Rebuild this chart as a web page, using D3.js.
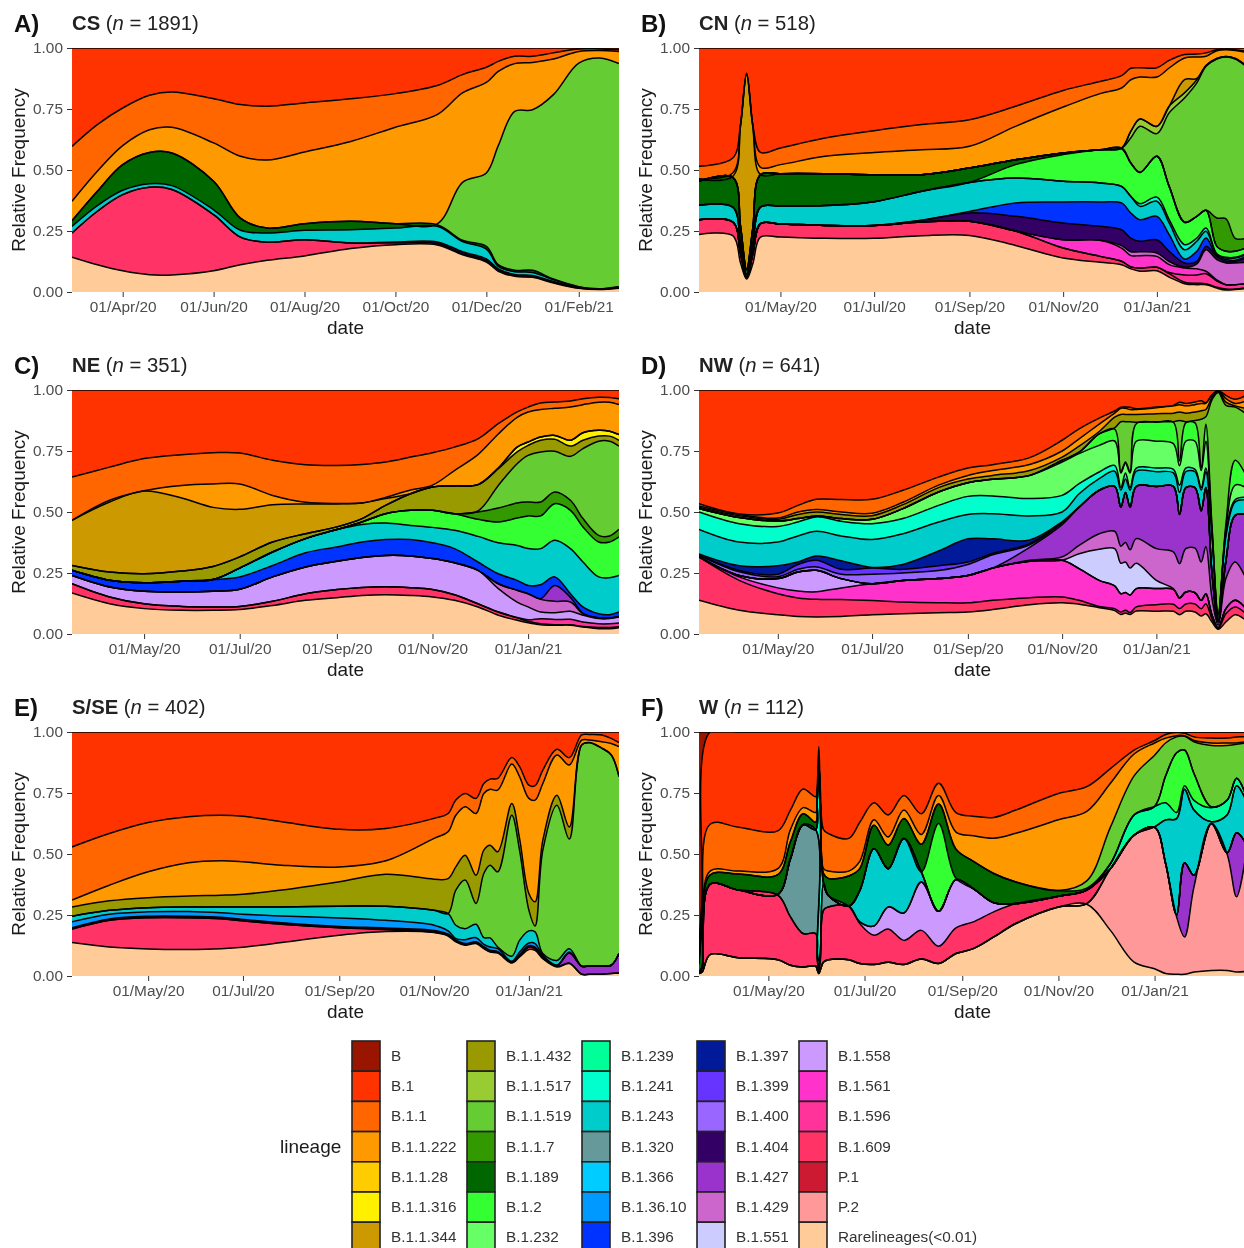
<!DOCTYPE html>
<html>
<head>
<meta charset="utf-8">
<title>Lineage frequency by region</title>
<script src="https://cdn.jsdelivr.net/npm/d3@7"></script>
<style>
  body { margin: 0; background: #fff; overflow: hidden; }
  svg { display: block; font-family: "Liberation Sans", Arial, sans-serif; filter: blur(0.4px); }
  .tick text { fill: #4d4d4d; font-size: 15.4px; }
  .tick line { stroke: #333; }
</style>
</head>
<body>
<script>
// lineages, top of the stack first (same order as the legend)
const lineages = ["B","B.1","B.1.1","B.1.1.222","B.1.1.28","B.1.1.316","B.1.1.344",
  "B.1.1.432","B.1.1.517","B.1.1.519","B.1.1.7","B.1.189","B.1.2","B.1.232",
  "B.1.239","B.1.241","B.1.243","B.1.320","B.1.366","B.1.36.10","B.1.396",
  "B.1.397","B.1.399","B.1.400","B.1.404","B.1.427","B.1.429","B.1.551",
  "B.1.558","B.1.561","B.1.596","B.1.609","P.1","P.2","Rarelineages(<0.01)"];
const lineageColours = ["#991500","#ff3300","#ff6600","#ff9900","#ffcc00","#fff000","#cc9900",
  "#999900","#99cc33","#66cc33","#339900","#006600","#33ff33","#66ff66",
  "#00ff99","#00ffcc","#00cccc","#669999","#00ccff","#0099ff","#0033ff",
  "#001a99","#6633ff","#9966ff","#330066","#9933cc","#cc66cc","#ccccff",
  "#cc99ff","#ff33cc","#ff3399","#ff3366","#cc1a33","#ff9999","#ffcc99"];
const N = null; // null = no thickness at that date, edge sits on the lineage below

// All series below are the upper edge of each lineage in the stack.

// A) CS
const csDates = ["2020-02-27","2020-03-15","2020-04-01","2020-04-19","2020-05-04","2020-06-01","2020-06-19","2020-07-07","2020-08-01","2020-09-01","2020-10-01","2020-10-29","2020-11-15","2020-12-01","2020-12-09","2020-12-20","2021-01-01","2021-01-15","2021-02-01","2021-02-15","2021-02-28"];
const csRare = [.143,.112,.087,.071,.070,.087,.112,.130,.148,.178,.194,.193,.153,.123,.085,.064,.060,.037,.015,.010,.015];
const cs609 = [.242,.331,.399,.429,.420,.317,.225,.204,.214,.201,.201,.198,.157,.128,.090,.068,.064,.040,.016,.011,.016];
const cs404 = [N,N,N,N,N,N,N,N,N,N,.205,.205,.165,.136,.095,.072,.068,.043,.018,.012,.017];
const cs243 = [.269,.354,.417,.444,.436,.337,.253,.242,.253,.255,.262,.269,.207,.176,.105,.083,.080,.050,.020,.013,.020];
const cs189 = [.292,.413,.522,.572,.57,.454,.303,.262,.28,.29,.28,.276,.212,.187,.112,.089,.089,.053,.022,.012,.023];
const cs519 = [N,N,N,N,N,N,N,N,N,N,N,.279,.449,.488,.60,.74,.747,.809,.938,.959,.936];
const cs222 = [.372,.495,.60,.665,.675,.611,.556,.541,.574,.617,.675,.727,.816,.859,.904,.936,.941,.955,.986,.99,.986];
const cs11 = [.597,.686,.754,.806,.82,.792,.768,.761,.775,.792,.813,.846,.891,.921,.945,.966,.966,.98,.996,.996,.993];

// B) CN
const cnDates = ["2020-03-09","2020-03-31","2020-04-05","2020-04-09","2020-04-13","2020-04-18","2020-05-01","2020-05-30","2020-07-01","2020-08-01","2020-09-01","2020-10-01","2020-11-01","2020-11-25","2020-12-09","2020-12-15","2020-12-21","2021-01-01","2021-01-09","2021-01-19","2021-01-27","2021-02-02","2021-02-09","2021-02-15","2021-02-21","2021-02-28"];
const cnRare = [.236,.231,.12,.053,.115,.225,.225,.22,.22,.231,.232,.191,.139,.122,.112,.095,.085,.087,.061,.034,.03,.03,.016,.008,.01,.014];
const cn609 = [.296,.287,.16,.06,.155,.28,.279,.273,.273,.287,.29,.25,.18,.146,.126,.103,.098,.101,.075,.04,.036,.034,.02,.012,.012,.018];
const cn596 = [N,N,N,N,N,N,N,N,N,N,N,N,N,N,N,N,N,N,.08,.07,.07,.075,.045,.03,.03,.033];
const cn561 = [N,N,N,N,N,N,N,N,N,N,N,N,.214,.212,.18,.149,.149,.146,.112,.098,.095,.085,.05,.03,.03,.035];
const cn429 = [N,N,N,N,N,N,N,N,N,N,N,N,N,N,.19,.165,.165,.16,.125,.102,.115,.173,.133,.119,.119,.122];
const cn404 = [N,N,N,N,N,N,N,N,N,.294,.324,.31,.283,.269,.255,.221,.208,.214,.167,.119,.126,.187,.146,.126,.126,.139];
const cn396 = [N,N,N,N,N,N,N,N,N,N,.33,.365,.369,.369,.365,.324,.296,.31,.235,.135,.167,.221,.146,.133,.13,.146];
const cn243 = [.355,.348,.20,.071,.195,.348,.352,.354,.37,.413,.449,.467,.454,.447,.433,.392,.351,.372,.283,.173,.208,.249,.153,.139,.139,.153];
const cn241 = [N,N,N,N,N,N,N,N,N,N,N,N,N,N,N,N,.362,.389,.297,.194,.221,.262,.157,.142,.142,.157];
const cn2 = [N,N,N,N,N,N,N,N,N,N,.449,.522,.563,.583,.587,.529,.49,.556,.433,.286,.31,.335,.187,.167,.167,.18];
const cn189 = [.454,.47,.27,.092,.26,.481,.485,.485,.481,.481,.508,.542,.57,.583,.59,N,N,N,N,N,N,N,N,N,N,N];
const cn17 = [N,N,N,N,N,N,N,N,N,N,N,N,N,N,N,N,N,N,N,N,N,N,.303,.30,.22,.22];
const cn519 = [N,N,N,N,N,N,N,N,N,N,N,N,N,N,N,.631,.679,.649,.734,.795,.857,.925,.955,.963,.955,.925];
const cn517 = [N,N,N,N,N,N,N,N,N,N,N,N,N,N,N,.658,.709,.679,.761,.816,.87,.928,.957,.965,.957,.928];
const cn344 = [.46,.474,.68,.891,.68,.481,.485,N,N,N,N,N,N,N,N,N,N,N,N,.87,.875,N,N,N,N,N];
const cn222 = [.464,.488,.682,.895,.682,.511,.522,.556,.572,.583,.597,.679,.758,.813,.836,.87,.881,.881,.918,.959,.963,.966,.989,.993,.99,.982];
const cn11 = [.515,.549,.686,.897,.686,.572,.59,.631,.661,.686,.706,.761,.826,.863,.887,.917,.919,.919,.949,.973,.975,.98,.993,.996,.993,.986];

// C) NE
const neDates = ["2020-03-16","2020-04-09","2020-05-01","2020-05-25","2020-06-14","2020-07-01","2020-07-22","2020-08-12","2020-09-01","2020-09-17","2020-10-02","2020-10-18","2020-11-01","2020-11-15","2020-11-30","2020-12-13","2020-12-25","2021-01-01","2021-01-09","2021-01-18","2021-01-28","2021-02-05","2021-02-15","2021-02-22","2021-02-28"];
const neRare = [.168,.124,.104,.097,.097,.1,.117,.138,.149,.158,.161,.158,.152,.138,.111,.077,.056,.046,.038,.036,.036,.029,.022,.022,.026];
const ne609 = [.206,.152,.124,.113,.111,.113,.134,.165,.182,.191,.194,.19,.182,.161,.124,.09,.066,.052,.042,.038,.038,.031,.027,.027,.03];
const ne596 = [N,N,N,N,N,N,N,N,N,N,N,N,N,N,N,N,.068,.058,.063,.059,.06,.049,.042,.042,.045];
const ne558 = [.24,.193,.175,.172,.175,.183,.234,.275,.298,.314,.322,.32,.309,.292,.261,.186,.131,.111,.09,.087,.093,.077,.063,.063,.07];
const ne429 = [N,N,N,N,N,N,N,N,N,N,N,N,N,N,N,.206,.179,.165,.142,.134,.131,.083,.066,.066,.072];
const ne427 = [N,N,N,N,N,N,N,N,N,N,N,N,N,N,N,N,N,N,.145,.199,.15,.085,N,N,N];
const ne396 = [.261,.22,.21,.216,.223,.234,.281,.333,.357,.377,.387,.387,.374,.35,.295,.247,.22,.199,.202,.234,.165,.111,.083,.079,.09];
const ne243 = [N,N,N,N,N,.27,.336,.391,.428,.449,.455,.445,.437,.425,.4,.374,.363,.35,.35,.384,.35,.295,.234,.231,.24];
const ne2 = [N,N,N,N,N,N,N,N,N,.459,.493,.507,.507,.493,.47,.459,.475,.484,.484,.534,.507,.439,.377,.377,.398];
const ne17 = [N,N,N,N,N,N,N,N,N,N,N,N,N,N,.5,.516,.537,.541,.541,.582,.548,.473,.404,.402,.429];
const ne519 = [N,N,N,N,N,N,N,N,N,N,N,N,N,N,.504,.609,.698,.732,.746,.749,.728,.76,.79,.79,.77];
const ne432 = [.281,.254,.247,.258,.277,.316,.377,.411,.439,.473,.527,.575,.602,.607,.612,.678,.746,.773,.794,.798,.77,.794,.811,.811,.794];
const ne316 = [N,N,N,N,N,N,N,N,N,N,N,N,N,N,N,.68,.766,.787,.807,.814,.794,.825,.835,.831,.817];
const ne344 = [.466,.541,.586,.557,.519,.511,.53,.533,.533,.537,.555,.575,N,N,N,N,N,N,N,N,N,N,N,N,N];
const ne222 = [.466,.548,.587,.609,.615,.615,.568,.54,.535,.537,.56,.59,.61,.67,.735,.82,.888,.91,.92,.925,.93,.94,.95,.95,.94];
const ne11 = [.643,.684,.719,.735,.743,.742,.712,.694,.691,.695,.705,.725,.743,.766,.8,.862,.91,.93,.947,.951,.955,.964,.97,.969,.964];

// D) NW
const nwDates = ["2020-03-11","2020-04-06","2020-05-01","2020-05-14","2020-05-26","2020-06-11","2020-07-01","2020-07-21","2020-08-13","2020-09-01","2020-09-17","2020-10-11","2020-11-01","2020-11-12","2020-11-25","2020-12-05","2020-12-09","2020-12-12","2020-12-15","2020-12-19","2021-01-01","2021-01-12","2021-01-16","2021-01-20","2021-01-26","2021-01-30","2021-02-02","2021-02-06","2021-02-10","2021-02-15","2021-02-21","2021-02-28"];
const nwRare = [.138,.097,.079,.072,.07,.072,.079,.083,.087,.09,.1,.12,.128,.122,.108,.096,.08,.086,.08,.094,.093,.093,.079,.093,.09,.074,.083,.049,.019,.049,.079,.056];
const nw609 = [.316,.22,.165,.148,.142,.141,.137,.131,.128,.128,.138,.149,.152,.138,.113,.104,.09,.097,.088,.111,.12,.122,.104,.123,.123,.104,.124,.063,.022,.083,.111,.083];
const nw561 = [N,.234,.189,.176,.173,.189,.206,.219,.227,.24,.27,.298,.302,.268,.22,.197,.165,.17,.16,.186,.186,.183,.148,.172,.169,.138,.165,.077,.025,.104,.138,.104];
const nw558 = [N,.24,.227,.254,.261,.227,N,N,N,N,N,N,N,N,N,N,N,N,N,N,N,N,N,N,N,N,N,N,N,N,N,N];
const nw551 = [N,N,N,N,N,N,N,N,N,N,N,N,N,.329,.347,.35,.29,.295,.27,.29,.22,.186,N,N,N,N,N,N,N,N,N,N];
const nw429 = [N,N,N,N,N,N,N,N,N,N,N,.302,.316,.363,.411,.421,.36,.375,.345,.391,.35,.336,.288,.35,.352,.295,.359,.145,.036,.227,.295,.227];
const nw427 = [N,N,N,N,N,N,N,N,N,N,.27,.355,.448,.52,.589,.605,.52,.58,.52,.605,.605,.605,.49,.6,.6,.505,.6,.25,.05,.3,.486,.49];
const nw400 = [.322,.255,.235,.265,.275,.245,.245,.25,.26,.285,.325,.365,.455,N,N,N,N,N,N,N,N,N,N,N,N,N,N,N,N,N,N,N];
const nw399 = [.325,.26,.245,.285,.302,.265,.27,.265,.28,.295,.33,.37,.458,N,N,N,N,N,N,N,N,N,N,N,N,N,N,N,N,N,N,N];
const nw397 = [.328,.28,.28,.295,.32,.30,.273,.285,.34,.39,.39,.385,.46,N,N,N,N,N,N,N,N,N,N,N,N,N,N,N,N,N,N,N];
const nw243 = [.429,.377,.377,.402,.421,.402,.387,.411,.459,.49,.493,.484,.5,.575,.637,.667,.59,.635,.59,.667,.665,.66,.58,.665,.665,.59,.665,.4,.06,.4,.541,.55];
const nw241 = [.5,.452,.441,.459,.48,.462,.452,.473,.527,.564,.566,.555,.568,.616,.664,.691,.6,.66,.6,.68,.68,.675,.61,.68,.675,.6,.68,.41,.07,.41,.55,.56];
const nw232 = [.514,.477,.463,.473,.484,.473,.47,.514,.582,.62,.634,.65,.705,.739,.773,.791,.66,.70,.66,.79,.79,.78,.69,.79,.79,.67,.79,.43,.08,.43,.61,.60];
const nw2 = [N,N,N,N,N,N,N,N,N,N,N,N,.712,.745,.82,.84,.665,.705,.665,.862,.868,.868,.71,.865,.865,.68,.86,.44,.085,.45,.712,.65];
const nw519 = [N,N,N,N,N,N,N,N,N,N,N,N,N,N,N,.845,.87,.87,.87,.868,.87,.87,.875,.87,.875,.88,.89,.96,.99,.937,.93,.903];
const nw432 = [.52,.485,.47,.49,.5,.49,.485,.53,.6,.635,.65,.67,.725,.77,.83,.889,.9,.9,.9,.9,.903,.905,.91,.905,.91,.915,.92,.97,.995,.95,.935,.925];
const nw222 = [.525,.49,.475,.5,.51,.5,.495,.54,.61,.65,.67,.695,.75,.8,.86,.905,.925,.925,.92,.92,.927,.935,.94,.935,.94,.945,.945,.98,.997,.965,.945,.955];
const nw11 = [.534,.492,.496,.527,.552,.551,.552,.589,.643,.68,.694,.723,.794,.841,.885,.914,.929,.93,.929,.923,.93,.937,.95,.945,.951,.956,.948,.978,.995,.978,.962,.978];

// E) S/SE
const seDates = ["2020-03-13","2020-04-06","2020-05-01","2020-05-27","2020-06-17","2020-07-01","2020-07-26","2020-09-01","2020-10-01","2020-11-01","2020-11-10","2020-11-15","2020-11-21","2020-11-28","2020-12-03","2020-12-07","2020-12-12","2020-12-21","2020-12-26","2021-01-01","2021-01-05","2021-01-10","2021-01-19","2021-01-27","2021-02-04","2021-02-09","2021-02-17","2021-02-23","2021-02-28"];
const seRare = [.137,.119,.111,.109,.112,.118,.137,.167,.182,.178,.164,.14,.126,.133,.112,.098,.094,.053,.078,.109,.105,.071,.037,.051,.007,.007,.007,.01,.012];
const se609 = [.192,.228,.239,.239,.235,.226,.212,.198,.19,.179,.167,.144,.129,.137,.115,.101,.097,.056,.083,.119,.112,.075,.04,.053,.007,.007,.007,.01,.012];
const se427 = [N,N,N,N,N,N,N,N,.193,.183,N,N,N,N,N,N,N,N,N,N,N,N,.042,.094,.04,.042,.042,.044,.092];
const se404 = [.198,.234,.245,.245,.241,.232,.218,.203,.197,.187,.172,.148,.133,.14,.12,.106,.1,.058,.088,.124,.118,.08,N,N,N,N,N,N,N];
const se3610 = [.222,.253,.263,.264,.259,.253,.246,.238,.228,.208,.185,.153,.149,.157,.13,.119,.112,.06,.098,.135,.133,.085,.045,.098,N,N,N,N,N];
const se243 = [.245,.269,.28,.283,.283,.283,.283,.286,.286,.269,.256,.208,.194,.212,.157,.156,.119,.081,.146,.185,.181,.092,.064,.112,N,N,N,N,N];
const se519 = [N,N,N,N,N,N,N,N,N,N,.256,.352,.393,.297,.42,.454,.427,.659,.516,.27,.205,.516,.7,.561,.947,.956,.933,.906,.817];
const se432 = [.283,.308,.321,.328,.331,.335,.352,.386,.417,.397,.399,.447,.495,.413,.516,.536,.509,.707,.564,.338,.304,.557,.741,.611,.948,.957,.934,.907,.818];
const se222 = [.311,.372,.427,.464,.472,.468,.454,.447,.472,.564,.591,.659,.694,.666,.748,.765,.762,.869,.817,.728,.721,.789,.906,.865,.967,.967,.96,.953,.94];
const se11 = [.529,.584,.629,.653,.659,.655,.632,.601,.605,.646,.666,.721,.748,.728,.789,.807,.81,.895,.858,.782,.78,.844,.929,.895,.988,.99,.988,.974,.956];

// F) W
const wDates = ["2020-03-18","2020-03-20","2020-03-25","2020-04-12","2020-05-07","2020-05-15","2020-05-23","2020-05-31","2020-06-01","2020-06-02","2020-06-03","2020-06-05","2020-06-08","2020-06-21","2020-06-28","2020-07-07","2020-07-16","2020-07-26","2020-08-06","2020-08-17","2020-08-28","2020-09-08","2020-09-21","2020-10-05","2020-11-01","2020-11-19","2020-12-04","2020-12-19","2021-01-01","2021-01-08","2021-01-15","2021-01-20","2021-01-26","2021-02-06","2021-02-16","2021-02-22","2021-02-28"];
const wRare = [.01,.016,.088,.075,.067,.044,.037,.041,.025,.01,.025,.057,.067,.067,.051,.047,.056,.047,.07,.051,.092,.112,.16,.215,.283,.294,.187,.057,.03,.01,.007,.007,.016,.023,.023,.016,.019];
const wP2 = [N,N,N,N,N,N,N,N,N,N,N,N,N,N,N,N,N,N,N,N,N,N,N,N,N,.297,.44,.577,.609,.461,.242,.16,.365,.625,.50,.325,.5];
const w427 = [N,N,N,N,N,N,N,N,N,N,N,N,N,N,N,N,N,N,N,N,N,N,N,N,N,N,N,N,N,N,.25,.464,.413,N,.505,.587,.543];
const w609 = [.012,.037,.376,.352,.331,.242,.174,.174,.07,.023,.07,.27,.283,.286,.215,.167,.193,.146,.187,.122,.197,.222,.263,.297,.327,.352,N,N,N,N,N,N,N,N,N,N,N];
const w558 = [N,N,N,N,N,N,N,N,N,N,N,N,N,N,.222,.205,.283,.258,.385,.265,.395,.358,.30,N,N,N,N,N,N,N,N,N,N,N,N,N,N];
const w320 = [N,N,N,N,.335,.48,.62,.60,.09,.03,.09,.38,.33,N,N,N,N,N,N,N,N,N,N,N,N,N,N,N,N,N,N,N,N,N,N,N,N];
const w243 = [N,N,N,N,N,N,N,N,.11,.06,.11,N,N,N,.35,.522,.44,.564,.427,N,N,N,N,N,N,N,N,N,.611,.64,.645,.765,.68,.632,.66,.78,.72];
const w241 = [N,N,N,N,N,N,N,N,.72,.88,.70,N,N,N,N,N,N,N,N,N,N,N,N,N,N,N,N,N,N,N,N,N,N,N,N,N,N];
const w239 = [N,N,N,N,N,N,N,N,N,N,N,N,N,N,N,N,N,N,N,N,N,N,N,N,N,.30,.46,.66,.695,.71,.67,.78,.72,.69,.72,.81,.74];
const w2 = [N,N,N,N,N,N,N,N,N,N,N,N,N,N,N,N,N,N,.427,.625,.40,N,N,N,N,N,N,N,.695,.82,.915,.926,.83,.693,N,N,N];
const w189 = [.05,.2,.414,.418,.415,.55,.665,.63,N,N,N,.42,.40,.41,.44,.618,.536,.645,.54,.705,.52,.47,.42,.385,.35,.36,N,N,N,N,N,N,N,N,N,N,N];
const w519 = [N,N,N,N,N,N,N,N,N,N,N,N,N,N,N,N,N,N,N,N,N,N,N,N,N,.39,.61,.82,.905,.955,.98,.982,.96,.945,.945,.95,.955];
const w222 = [.07,.22,.43,.43,.44,.6,.69,.67,N,N,N,.44,.43,.43,.47,.64,.57,.68,.58,.74,.59,.575,.565,.585,.64,.675,.79,.91,.955,.975,.985,.985,.965,.955,.955,.955,.96];
const w11 = [.1,.28,.622,.61,.595,.68,.766,.735,.78,.94,.76,.6,.584,.564,.63,.71,.66,.74,.665,.79,.67,.655,.65,.68,.748,.776,.85,.926,.965,.99,.998,.995,.98,.975,.975,.98,.98];
const w1 = [.135,.32,1,1,1,1,1,1,1,1,1,1,1,1,1,1,1,1,1,1,1,1,1,1,1,1,1,1,1,1,1,1,1,1,1,1,1];

const ticks2020 = ["2020-05-01","2020-07-01","2020-09-01","2020-11-01","2021-01-01"];
const ticksCs = ["2020-04-01","2020-06-01","2020-08-01","2020-10-01","2020-12-01","2021-02-01"];
const yTicks = [0, .25, .5, .75, 1];

// panels: layers go bottom to top, the last one has no array and runs up to 1.00
const panels = [
  { letter:"A)", name:"CS", n:1891, col:0, row:0, dates:csDates, ticks:ticksCs, layers:[
    ["Rarelineages(<0.01)",csRare],["B.1.609",cs609],["B.1.404",cs404],["B.1.243",cs243],["B.1.189",cs189],
    ["B.1.1.519",cs519],["B.1.1.222",cs222],["B.1.1",cs11],["B.1",null]] },
  { letter:"B)", name:"CN", n:518, col:1, row:0, dates:cnDates, ticks:ticks2020, layers:[
    ["Rarelineages(<0.01)",cnRare],["B.1.609",cn609],["B.1.596",cn596],["B.1.561",cn561],["B.1.429",cn429],
    ["B.1.404",cn404],["B.1.396",cn396],["B.1.243",cn243],["B.1.241",cn241],["B.1.2",cn2],["B.1.189",cn189],
    ["B.1.1.7",cn17],["B.1.1.519",cn519],["B.1.1.517",cn517],["B.1.1.344",cn344],["B.1.1.222",cn222],
    ["B.1.1",cn11],["B.1",null]] },
  { letter:"C)", name:"NE", n:351, col:0, row:1, dates:neDates, ticks:ticks2020, layers:[
    ["Rarelineages(<0.01)",neRare],["B.1.609",ne609],["B.1.596",ne596],["B.1.558",ne558],["B.1.429",ne429],
    ["B.1.427",ne427],["B.1.396",ne396],["B.1.243",ne243],["B.1.2",ne2],["B.1.1.7",ne17],["B.1.1.519",ne519],
    ["B.1.1.432",ne432],["B.1.1.316",ne316],["B.1.1.344",ne344],["B.1.1.222",ne222],["B.1.1",ne11],["B.1",null]] },
  { letter:"D)", name:"NW", n:641, col:1, row:1, dates:nwDates, ticks:ticks2020, layers:[
    ["Rarelineages(<0.01)",nwRare],["B.1.609",nw609],["B.1.561",nw561],["B.1.558",nw558],["B.1.551",nw551],
    ["B.1.429",nw429],["B.1.427",nw427],["B.1.400",nw400],["B.1.399",nw399],["B.1.397",nw397],["B.1.243",nw243],
    ["B.1.241",nw241],["B.1.232",nw232],["B.1.2",nw2],["B.1.1.519",nw519],["B.1.1.432",nw432],["B.1.1.222",nw222],
    ["B.1.1",nw11],["B.1",null]] },
  { letter:"E)", name:"S/SE", n:402, col:0, row:2, dates:seDates, ticks:ticks2020, layers:[
    ["Rarelineages(<0.01)",seRare],["B.1.609",se609],["B.1.427",se427],["B.1.404",se404],["B.1.36.10",se3610],
    ["B.1.243",se243],["B.1.1.519",se519],["B.1.1.432",se432],["B.1.1.222",se222],["B.1.1",se11],["B.1",null]] },
  { letter:"F)", name:"W", n:112, col:1, row:2, dates:wDates, ticks:ticks2020, layers:[
    ["Rarelineages(<0.01)",wRare],["P.2",wP2],["B.1.427",w427],["B.1.609",w609],["B.1.558",w558],["B.1.320",w320],
    ["B.1.243",w243],["B.1.241",w241],["B.1.239",w239],["B.1.2",w2],["B.1.189",w189],["B.1.1.519",w519],
    ["B.1.1.222",w222],["B.1.1",w11],["B.1",w1],["B",null]] }
];

// layout
const colX = [72, 699], rowY = [48, 390, 732];
const plotW = 547, plotH = 244;
const legendColX = [352, 467, 582, 697, 799];
const legendTop = 1041, legendStep = 30.2;

const parseDate = d3.timeParse("%Y-%m-%d");
const colour = d3.scaleOrdinal().domain(lineages).range(lineageColours);

const svg = d3.select("body").append("svg").attr("width", 1244).attr("height", 1248);

panels.forEach(function(p, pi) {
  const dates = p.dates.map(parseDate);
  const x = d3.scaleTime().domain(d3.extent(dates)).range([0, plotW]);
  const y = d3.scaleLinear().domain([0, 1]).range([plotH, 0]);
  const g = svg.append("g").attr("transform", "translate(" + colX[p.col] + "," + rowY[p.row] + ")");

  // turn the edge arrays into rows, a null edge lies on the lineage below
  let below = dates.map(function() { return 0; });
  const stacked = p.layers.map(function(l) {
    if (l[1] && l[1].length !== dates.length) throw new Error(p.name + " " + l[0] + " has " + l[1].length + " values");
    const tops = dates.map(function(d, i) {
      if (!l[1]) return 1;
      return l[1][i] === null ? below[i] : Math.max(below[i], l[1][i]);
    });
    below = tops;
    return { lineage: l[0], rows: dates.map(function(d, i) { return { date: d, top: tops[i] }; }) };
  });

  // smooth like the loess curves in the original
  const curve = d3.curveCatmullRom.alpha(0.5);
  const area = d3.area().curve(curve)
    .x(function(d) { return x(d.date); })
    .y0(plotH)
    .y1(function(d) { return y(d.top); });
  const line = d3.line().curve(curve)
    .x(function(d) { return x(d.date); })
    .y(function(d) { return y(d.top); });

  svg.append("clipPath").attr("id", "clip" + pi)
    .append("rect").attr("width", plotW).attr("height", plotH);
  const marks = g.append("g").attr("clip-path", "url(#clip" + pi + ")");

  // painted from the top of the stack down, each fill reaches the baseline
  const topFirst = stacked.slice().reverse();
  marks.selectAll(".band").data(topFirst).enter().append("path")
    .attr("class", "band")
    .attr("fill", function(d) { return colour(d.lineage); })
    .attr("d", function(d) { return area(d.rows); });
  marks.selectAll(".edge").data(topFirst).enter().append("path")
    .attr("class", "edge")
    .attr("fill", "none")
    .attr("stroke", "#000")
    .attr("stroke-width", 1.5)
    .attr("d", function(d) { return line(d.rows); });

  const xAxis = d3.axisBottom(x).tickValues(p.ticks.map(parseDate))
    .tickFormat(d3.timeFormat("%d/%b/%y")).tickSize(5).tickPadding(4);
  const yAxis = d3.axisLeft(y).tickValues(yTicks)
    .tickFormat(d3.format(".2f")).tickSize(5).tickPadding(4);
  g.append("g").attr("transform", "translate(0," + plotH + ")").call(xAxis)
    .call(function(s) { s.select(".domain").remove(); });
  g.append("g").call(yAxis).call(function(s) { s.select(".domain").remove(); });

  // axis titles
  g.append("text").attr("x", plotW / 2).attr("y", plotH + 42)
    .attr("text-anchor", "middle").attr("font-size", 19).attr("fill", "#1a1a1a").text("date");
  g.append("text").attr("transform", "translate(-47," + (plotH / 2) + ") rotate(-90)")
    .attr("text-anchor", "middle").attr("font-size", 19).attr("fill", "#1a1a1a").text("Relative Frequency");

  // panel letter and title
  g.append("text").attr("x", -58).attr("y", -16)
    .attr("font-size", 24).attr("font-weight", "bold").attr("fill", "#111").text(p.letter);
  const title = g.append("text").attr("x", 0).attr("y", -18).attr("font-size", 20.3).attr("fill", "#222");
  title.append("tspan").attr("font-weight", "bold").text(p.name);
  title.append("tspan").text(" (");
  title.append("tspan").attr("font-style", "italic").text("n");
  title.append("tspan").text(" = " + p.n + ")");
});

// legend, 7 keys per column
const legend = svg.append("g");
legend.append("text").attr("x", 280).attr("y", 1153).attr("font-size", 19).attr("fill", "#1a1a1a").text("lineage");
const keys = legend.selectAll(".key").data(lineages).enter().append("g")
  .attr("class", "key")
  .attr("transform", function(d, i) {
    return "translate(" + legendColX[Math.floor(i / 7)] + "," + (legendTop + (i % 7) * legendStep) + ")";
  });
keys.append("rect").attr("width", 28).attr("height", legendStep)
  .attr("fill", function(d) { return colour(d); })
  .attr("stroke", "#222").attr("stroke-width", 1.6);
keys.append("text").attr("x", 39).attr("y", 20)
  .attr("font-size", 15.3).attr("fill", "#333").text(function(d) { return d; });
</script>
</body>
</html>
